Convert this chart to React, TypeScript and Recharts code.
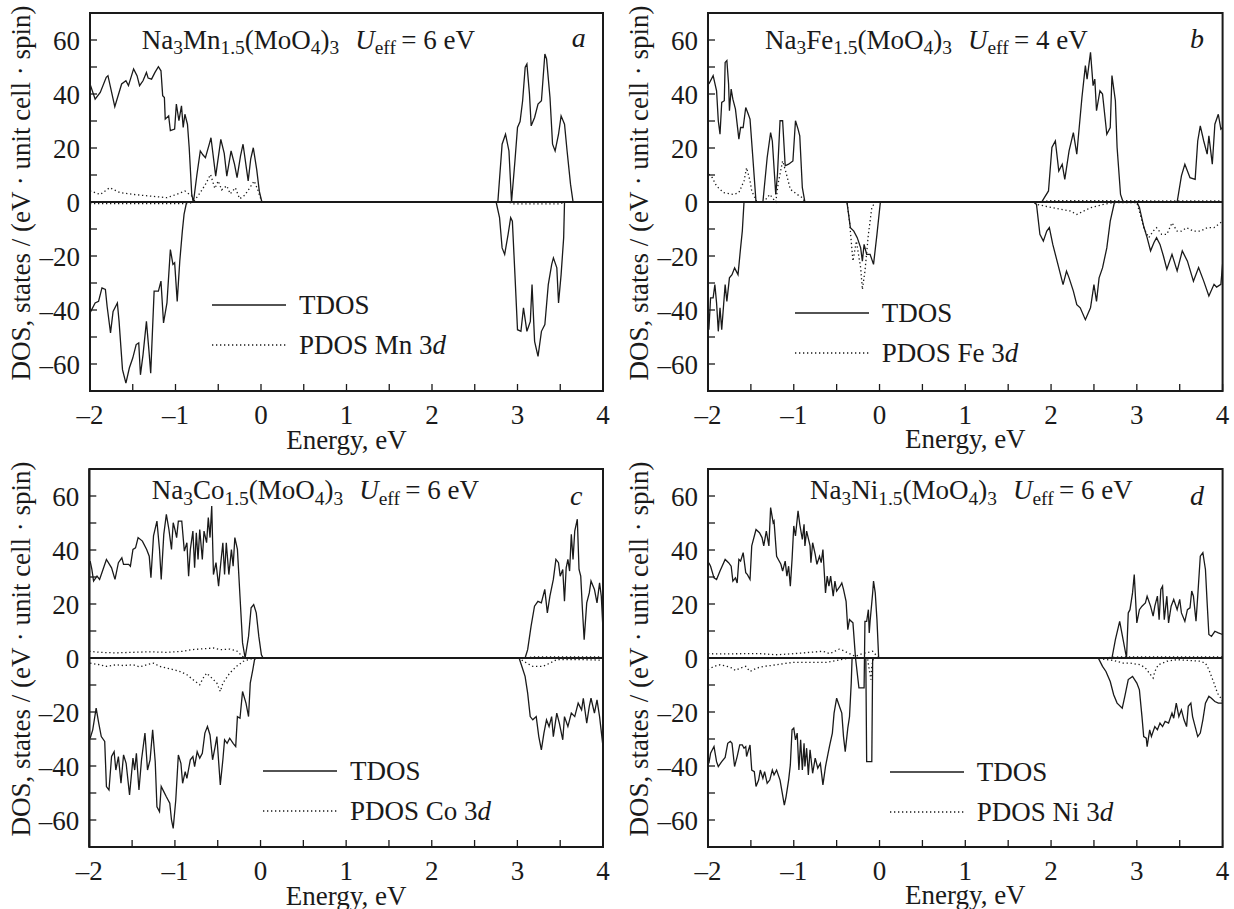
import React from 'react';
import { LineChart, Line, XAxis, YAxis, ReferenceLine, ReferenceArea, Legend } from 'recharts';

type P = [number, number];

const FONT = '"Liberation Serif", "Times New Roman", serif';
const INK = '#1a1a1a';
const FS = 27;

const energyTicks = [-2, -1.5, -1, -0.5, 0, 0.5, 1, 1.5, 2, 2.5, 3, 3.5, 4];
const dosTicks = [-60, -50, -40, -30, -20, -10, 0, 10, 20, 30, 40, 50, 60];
const metals = ['Mn', 'Fe', 'Co', 'Ni'];
const uEff = [6, 4, 6, 6];
const panelLetters = ['a', 'b', 'c', 'd'];

// ---------- Panel a: Na3Mn1.5(MoO4)3 ----------
const mnTdosUp: P[] = [
  [-2.0, 43.7], [-1.94, 38.1], [-1.88, 40.6], [-1.81, 46.2], [-1.79, 46.8], [-1.71, 35.3], [-1.63, 43.7],
  [-1.58, 44.9], [-1.55, 43.1], [-1.49, 49.3], [-1.45, 46.8], [-1.42, 43.1], [-1.38, 44.9], [-1.34, 48.0],
  [-1.32, 45.9], [-1.28, 45.5], [-1.24, 48.0], [-1.2, 50.1], [-1.17, 48.6], [-1.15, 39.4], [-1.13, 38.7],
  [-1.12, 30.7], [-1.08, 31.9], [-1.06, 26.4], [-1.01, 27.0], [-0.99, 36.3], [-0.96, 30.1], [-0.93, 35.6],
  [-0.91, 27.6], [-0.89, 32.5], [-0.86, 28.8], [-0.84, 20.2], [-0.81, 2.8], [-0.79, 0], [-0.75, 10.0],
  [-0.71, 18.9], [-0.68, 17.5], [-0.65, 16.4], [-0.6, 22.0], [-0.585, 23.8], [-0.53, 9.6], [-0.47, 23.2],
  [-0.43, 18.0], [-0.4, 9.6], [-0.35, 18.9], [-0.31, 14.0], [-0.28, 9.0], [-0.24, 17.0], [-0.21, 21.4],
  [-0.15, 7.8], [-0.12, 16.0], [-0.09, 20.1], [-0.05, 12.0], [-0.02, 4.0], [0.01, 0], [2.77, 0],
  [2.82, 21.4], [2.86, 25.1], [2.9, 18.9], [2.93, 0], [2.97, 15.2], [3.0, 27.6], [3.03, 29.8], [3.06, 37.5],
  [3.09, 49.9], [3.11, 51.1], [3.14, 40.0], [3.16, 28.2], [3.2, 31.3], [3.24, 36.3], [3.28, 37.5],
  [3.32, 54.8], [3.34, 53.0], [3.38, 38.7], [3.41, 21.4], [3.44, 18.9], [3.48, 25.1], [3.51, 31.9],
  [3.55, 28.8], [3.58, 18.9], [3.62, 6.6], [3.65, 0], [4.0, 0],
];
const mnTdosDown: P[] = [
  [-2.0, -41.1], [-1.94, -37.4], [-1.9, -36.8], [-1.86, -31.8], [-1.82, -32.4], [-1.8, -38.6], [-1.76, -48.5],
  [-1.73, -40.5], [-1.68, -37.4], [-1.66, -44.2], [-1.62, -62.1], [-1.58, -67.1], [-1.54, -61.5],
  [-1.5, -57.8], [-1.46, -52.8], [-1.43, -52.2], [-1.41, -64.0], [-1.38, -56.6], [-1.34, -44.2],
  [-1.31, -55.3], [-1.29, -63.4], [-1.25, -33.0], [-1.2, -33.0], [-1.17, -29.3], [-1.14, -44.8],
  [-1.1, -37.4], [-1.06, -17.6], [-1.03, -23.1], [-1.01, -22.5], [-0.98, -36.8], [-0.95, -21.9],
  [-0.92, -10.8], [-0.9, -4.6], [-0.87, 0], [2.75, 0], [2.79, -5.8], [2.82, -17.0], [2.85, -19.4],
  [2.89, -12.0], [2.92, -5.8], [2.94, -7.1], [2.97, -26.9], [3.0, -47.3], [3.04, -47.9], [3.07, -39.2],
  [3.11, -47.9], [3.15, -44.2], [3.17, -30.6], [3.2, -51.6], [3.24, -57.2], [3.28, -47.9], [3.32, -45.4],
  [3.36, -30.6], [3.4, -23.1], [3.42, -20.7], [3.46, -24.4], [3.48, -37.4], [3.51, -26.9], [3.54, -13.2],
  [3.55, 0], [4.0, 0],
];
const mnPdosUp: P[] = [
  [-2.0, 4.1], [-1.88, 2.8], [-1.77, 5.3], [-1.65, 3.5], [-1.49, 2.8], [-1.3, 2.2], [-1.1, 1.6], [-0.99, 2.8],
  [-0.89, 4.1], [-0.81, 2.2], [-0.79, 0], [-0.71, 3.5], [-0.65, 6.5], [-0.59, 10.2], [-0.54, 5.0],
  [-0.5, 7.8], [-0.46, 4.5], [-0.4, 6.0], [-0.36, 3.0], [-0.3, 5.3], [-0.25, 1.2], [-0.19, 2.5],
  [-0.13, 5.3], [-0.08, 7.8], [-0.04, 4.7], [0.01, 0], [4.0, 0],
];
const mnPdosDown: P[] = [
  [-2.0, -0.6], [-0.85, -0.6], [-0.8, 0], [2.9, 0], [2.95, -0.7], [3.5, -0.7], [3.55, 0], [4.0, 0],
];

// ---------- Panel b: Na3Fe1.5(MoO4)3 ----------
const feTdosUp: P[] = [
  [-1.99, 43.7], [-1.94, 46.8], [-1.9, 41.2], [-1.88, 30.1], [-1.86, 25.1], [-1.84, 36.9], [-1.81, 37.5],
  [-1.8, 51.7], [-1.78, 52.4], [-1.76, 43.7], [-1.75, 33.8], [-1.73, 41.8], [-1.71, 38.1], [-1.68, 34.4],
  [-1.64, 23.3], [-1.62, 27.6], [-1.59, 27.6], [-1.56, 35.0], [-1.53, 32.5], [-1.51, 30.7], [-1.48, 17.7],
  [-1.44, 0], [-1.36, 0], [-1.31, 16.5], [-1.27, 25.7], [-1.25, 22.6], [-1.21, 2.8], [-1.19, 10.3],
  [-1.16, 30.1], [-1.13, 30.1], [-1.1, 13.4], [-1.06, 14.0], [-1.01, 15.2], [-0.98, 30.1], [-0.95, 27.0],
  [-0.93, 24.5], [-0.9, 5.3], [-0.87, 0], [1.89, 0], [1.97, 4.1], [2.01, 20.2], [2.05, 22.6], [2.09, 11.5],
  [2.13, 14.0], [2.16, 8.4], [2.21, 18.9], [2.26, 25.7], [2.3, 17.7], [2.36, 38.7], [2.4, 50.5],
  [2.42, 45.5], [2.46, 55.4], [2.49, 43.1], [2.51, 45.5], [2.53, 33.8], [2.57, 41.2], [2.6, 40.0],
  [2.65, 25.1], [2.69, 27.6], [2.71, 46.8], [2.75, 37.5], [2.77, 20.2], [2.81, 2.8], [2.84, 0], [3.47, 0],
  [3.52, 9.7], [3.56, 14.0], [3.62, 9.0], [3.68, 8.4], [3.71, 22.6], [3.74, 28.2], [3.78, 22.6],
  [3.82, 17.7], [3.84, 24.5], [3.88, 14.0], [3.91, 28.8], [3.95, 32.5], [3.98, 27.0], [4.0, 27.6],
];
const feTdosDown: P[] = [
  [-1.99, -47.3], [-1.97, -35.5], [-1.94, -35.5], [-1.92, -30.6], [-1.9, -37.4], [-1.88, -47.9],
  [-1.86, -39.2], [-1.84, -47.3], [-1.8, -30.6], [-1.78, -36.8], [-1.75, -28.1], [-1.72, -26.9],
  [-1.69, -24.4], [-1.65, -26.9], [-1.62, -17.0], [-1.6, -10.8], [-1.58, 0], [-0.38, 0], [-0.34, -9.5],
  [-0.3, -10.8], [-0.26, -13.2], [-0.22, -17.0], [-0.2, -21.9], [-0.18, -15.7], [-0.15, -19.4],
  [-0.11, -19.4], [-0.07, -23.1], [-0.03, -12.0], [0.01, 0], [1.8, 0], [1.83, -0.9], [1.87, -12.0],
  [1.91, -14.5], [1.95, -10.8], [1.98, -9.5], [2.02, -15.7], [2.08, -23.1], [2.14, -30.6], [2.18, -25.6],
  [2.21, -28.1], [2.26, -33.0], [2.3, -38.0], [2.34, -39.2], [2.4, -43.6], [2.46, -39.2], [2.5, -30.6],
  [2.53, -36.8], [2.56, -28.1], [2.6, -24.4], [2.65, -17.0], [2.69, -7.1], [2.74, 0], [3.0, 0],
  [3.03, -2.0], [3.08, -9.0], [3.12, -13.2], [3.16, -18.1], [3.2, -15.0], [3.23, -13.2], [3.27, -15.7],
  [3.31, -20.0], [3.35, -24.9], [3.41, -19.4], [3.47, -25.5], [3.53, -18.1], [3.59, -21.9], [3.66, -29.3],
  [3.72, -24.3], [3.78, -29.3], [3.84, -34.8], [3.9, -30.5], [3.93, -31.5], [3.98, -30.5], [4.0, -23.0],
];
const fePdosUp: P[] = [
  [-1.99, 10.3], [-1.95, 9.0], [-1.9, 5.9], [-1.82, 3.5], [-1.7, 2.8], [-1.64, 3.5], [-1.58, 7.8],
  [-1.55, 12.7], [-1.51, 7.8], [-1.49, 4.1], [-1.43, 0], [-1.35, 0], [-1.28, 2.8], [-1.21, 0], [-1.18, 7.2],
  [-1.13, 15.2], [-1.09, 10.9], [-1.04, 4.7], [-0.96, 2.8], [-0.9, 1.6], [-0.87, 0], [1.8, 0], [2.0, 0.5],
  [2.8, 0.5], [3.5, 0.4], [4.0, 0.4],
];
const fePdosDown: P[] = [
  [-2.0, 0], [-0.38, 0], [-0.35, -7.1], [-0.31, -21.9], [-0.27, -14.5], [-0.22, -24.4], [-0.2, -32.4],
  [-0.17, -25.6], [-0.13, -12.0], [-0.09, -2.1], [-0.05, 0], [1.8, 0], [1.83, -0.9], [2.02, -2.1],
  [2.22, -3.3], [2.3, -4.6], [2.46, -2.1], [2.61, -0.9], [2.73, -0.2], [3.0, -0.2], [3.04, -4.6],
  [3.08, -9.5], [3.14, -13.2], [3.19, -10.8], [3.23, -9.5], [3.29, -12.0], [3.35, -12.0], [3.41, -7.7],
  [3.47, -10.8], [3.52, -10.8], [3.58, -9.5], [3.66, -10.8], [3.74, -10.8], [3.82, -9.5], [3.9, -9.5],
  [3.95, -8.3], [4.0, -7.1],
];

// ---------- Panel c: Na3Co1.5(MoO4)3 ----------
const coTdosUp: P[] = [
  [-1.99, 35.9], [-1.97, 32.8], [-1.95, 28.5], [-1.91, 30.3], [-1.88, 29.1], [-1.86, 30.9], [-1.8, 36.5],
  [-1.74, 33.4], [-1.7, 29.1], [-1.66, 35.3], [-1.62, 37.1], [-1.6, 34.7], [-1.54, 34.7], [-1.52, 34.0],
  [-1.49, 40.2], [-1.46, 40.8], [-1.43, 44.6], [-1.38, 43.3], [-1.33, 40.2], [-1.3, 37.7], [-1.28, 29.7],
  [-1.25, 45.2], [-1.21, 50.7], [-1.18, 40.2], [-1.16, 29.1], [-1.13, 45.8], [-1.1, 53.2], [-1.07, 47.6],
  [-1.04, 40.2], [-1.02, 50.1], [-1.0, 47.6], [-0.98, 44.6], [-0.96, 50.7], [-0.92, 50.7], [-0.89, 39.6],
  [-0.86, 42.7], [-0.84, 30.3], [-0.82, 40.2], [-0.79, 47.0], [-0.77, 33.4], [-0.75, 46.4], [-0.73, 36.5],
  [-0.71, 47.6], [-0.68, 36.5], [-0.66, 47.0], [-0.63, 42.7], [-0.61, 52.0], [-0.59, 44.6], [-0.57, 56.3],
  [-0.55, 30.9], [-0.52, 35.3], [-0.49, 26.6], [-0.47, 33.4], [-0.44, 42.7], [-0.42, 30.9], [-0.4, 42.7],
  [-0.37, 30.9], [-0.34, 40.2], [-0.32, 34.0], [-0.3, 44.6], [-0.27, 40.2], [-0.24, 22.9], [-0.21, 5.6],
  [-0.18, 0], [-0.14, 8.0], [-0.11, 18.6], [-0.08, 19.8], [-0.05, 16.7], [-0.02, 8.0], [0.01, 1.2],
  [0.03, 0], [3.09, 0], [3.12, 3.1], [3.16, 11.8], [3.2, 19.2], [3.24, 21.0], [3.28, 20.4], [3.32, 25.4],
  [3.35, 16.7], [3.38, 22.9], [3.42, 29.1], [3.45, 36.5], [3.48, 35.3], [3.5, 30.3], [3.53, 32.8],
  [3.55, 21.0], [3.57, 33.4], [3.59, 36.5], [3.61, 32.2], [3.63, 45.8], [3.65, 36.5], [3.67, 47.0],
  [3.7, 51.4], [3.72, 32.8], [3.74, 30.3], [3.76, 17.9], [3.78, 6.8], [3.81, 20.4], [3.84, 24.1],
  [3.86, 28.5], [3.9, 25.4], [3.93, 20.4], [3.96, 27.8], [3.98, 22.9], [4.0, 10.5],
];
const coTdosDown: P[] = [
  [-1.99, -29.7], [-1.96, -26.6], [-1.92, -18.6], [-1.89, -24.1], [-1.86, -29.1], [-1.82, -30.9],
  [-1.8, -47.6], [-1.77, -48.9], [-1.74, -36.5], [-1.71, -34.7], [-1.69, -41.5], [-1.66, -36.5],
  [-1.63, -46.4], [-1.6, -35.9], [-1.57, -39.0], [-1.53, -50.7], [-1.49, -37.1], [-1.47, -41.5],
  [-1.45, -35.3], [-1.42, -48.9], [-1.39, -37.7], [-1.35, -27.8], [-1.32, -41.5], [-1.29, -37.7],
  [-1.26, -26.6], [-1.23, -38.4], [-1.21, -55.1], [-1.18, -56.9], [-1.16, -47.6], [-1.13, -49.5],
  [-1.1, -51.4], [-1.06, -53.8], [-1.04, -60.0], [-1.02, -63.1], [-0.99, -52.6], [-0.96, -35.9],
  [-0.93, -39.0], [-0.91, -46.4], [-0.88, -42.1], [-0.86, -44.6], [-0.82, -37.7], [-0.79, -36.5],
  [-0.77, -40.2], [-0.74, -34.7], [-0.71, -37.1], [-0.68, -35.3], [-0.65, -27.8], [-0.62, -25.4],
  [-0.59, -28.5], [-0.56, -37.7], [-0.53, -32.8], [-0.51, -29.1], [-0.47, -47.0], [-0.44, -37.7],
  [-0.42, -30.3], [-0.39, -31.6], [-0.36, -29.7], [-0.32, -31.6], [-0.29, -32.8], [-0.27, -21.7],
  [-0.24, -22.3], [-0.21, -12.4], [-0.17, -16.7], [-0.14, -21.7], [-0.12, -9.3], [-0.09, -4.3],
  [-0.07, -0.6], [-0.05, 0], [3.02, 0], [3.09, -6.8], [3.12, -13.0], [3.15, -21.7], [3.18, -22.9],
  [3.22, -21.7], [3.25, -29.1], [3.28, -34.0], [3.31, -27.8], [3.34, -22.9], [3.37, -25.4], [3.4, -21.7],
  [3.42, -29.1], [3.46, -20.4], [3.49, -24.1], [3.53, -30.3], [3.55, -21.7], [3.59, -25.4], [3.63, -20.4],
  [3.67, -21.7], [3.71, -16.7], [3.75, -19.2], [3.77, -14.9], [3.81, -24.1], [3.84, -17.9], [3.86, -14.9],
  [3.9, -20.4], [3.93, -15.5], [3.96, -21.7], [4.0, -32.8],
];
const coPdosUp: P[] = [
  [-2.0, 2.5], [-1.88, 2.1], [-1.7, 1.9], [-1.5, 2.1], [-1.3, 2.3], [-1.1, 2.1], [-0.9, 2.5], [-0.8, 3.1],
  [-0.63, 3.5], [-0.55, 3.7], [-0.47, 3.1], [-0.36, 3.3], [-0.28, 2.7], [-0.21, 0.6], [-0.17, 0],
  [3.05, 0], [3.2, 0.4], [4.0, 0.4],
];
const coPdosDown: P[] = [
  [-1.99, -1.9], [-1.88, -2.5], [-1.8, -3.1], [-1.68, -2.5], [-1.6, -2.8], [-1.49, -2.5], [-1.41, -3.3],
  [-1.33, -2.5], [-1.25, -1.9], [-1.18, -3.1], [-1.1, -3.7], [-1.02, -4.3], [-0.94, -5.0], [-0.86, -6.2],
  [-0.79, -8.0], [-0.71, -9.9], [-0.67, -7.4], [-0.63, -5.6], [-0.55, -8.0], [-0.51, -9.3], [-0.47, -12.4],
  [-0.44, -9.3], [-0.36, -5.6], [-0.28, -3.1], [-0.2, -1.2], [-0.12, -0.4], [-0.07, 0], [3.02, 0],
  [3.07, -1.2], [3.18, -3.1], [3.3, -3.1], [3.38, -1.9], [3.46, -0.6], [3.73, -0.6], [4.0, -0.8],
];

// ---------- Panel d: Na3Ni1.5(MoO4)3 ----------
const niTdosUp: P[] = [
  [-1.99, 35.3], [-1.97, 34.0], [-1.93, 29.7], [-1.9, 29.1], [-1.86, 32.2], [-1.8, 36.5], [-1.76, 35.3],
  [-1.73, 34.0], [-1.71, 28.5], [-1.68, 29.7], [-1.66, 27.8], [-1.64, 36.5], [-1.62, 35.9], [-1.59, 39.0],
  [-1.56, 31.6], [-1.54, 30.9], [-1.51, 29.1], [-1.49, 41.5], [-1.44, 47.6], [-1.4, 46.4], [-1.37, 44.6],
  [-1.35, 41.5], [-1.32, 47.0], [-1.29, 41.5], [-1.27, 55.7], [-1.24, 50.1], [-1.23, 50.7], [-1.2, 37.7],
  [-1.18, 36.5], [-1.15, 34.7], [-1.13, 32.2], [-1.1, 35.9], [-1.08, 30.3], [-1.06, 34.0], [-1.04, 26.6],
  [-1.02, 36.5], [-1.0, 48.9], [-0.98, 45.2], [-0.95, 54.5], [-0.93, 49.5], [-0.9, 43.9], [-0.88, 49.5],
  [-0.87, 41.5], [-0.85, 47.0], [-0.81, 41.5], [-0.8, 35.3], [-0.78, 42.7], [-0.75, 38.4], [-0.73, 34.7],
  [-0.7, 37.7], [-0.68, 35.3], [-0.66, 40.2], [-0.63, 24.1], [-0.61, 30.3], [-0.59, 26.6], [-0.57, 30.3],
  [-0.54, 22.9], [-0.52, 28.5], [-0.5, 24.8], [-0.46, 26.6], [-0.44, 27.8], [-0.42, 25.4], [-0.39, 21.0],
  [-0.37, 10.5], [-0.35, 14.2], [-0.31, 13.0], [-0.28, 0], [-0.24, -11.1], [-0.18, -11.1], [-0.17, 13.6],
  [-0.15, 13.6], [-0.13, 17.9], [-0.12, 9.3], [-0.11, 13.6], [-0.08, 24.1], [-0.07, 28.5], [-0.05, 24.1],
  [-0.03, 14.2], [-0.01, 0], [2.71, 0], [2.75, 6.8], [2.8, 13.6], [2.84, 6.8], [2.88, 0], [2.9, 16.7],
  [2.92, 17.9], [2.95, 24.1], [2.97, 30.9], [3.0, 13.0], [3.03, 17.9], [3.06, 19.2], [3.1, 20.4],
  [3.12, 22.9], [3.16, 19.2], [3.19, 15.5], [3.21, 19.2], [3.24, 22.9], [3.26, 14.2], [3.28, 25.4],
  [3.3, 26.6], [3.32, 14.2], [3.35, 22.9], [3.37, 13.0], [3.4, 19.2], [3.43, 21.7], [3.45, 19.8],
  [3.47, 17.9], [3.5, 21.7], [3.52, 16.7], [3.56, 13.6], [3.59, 17.9], [3.62, 18.6], [3.64, 24.8],
  [3.66, 22.9], [3.69, 13.6], [3.71, 22.9], [3.74, 37.7], [3.77, 39.0], [3.8, 32.8], [3.82, 20.4],
  [3.84, 8.7], [3.87, 8.0], [3.91, 9.9], [3.95, 9.3], [4.0, 8.7],
];
const niTdosDown: P[] = [
  [-1.99, -39.0], [-1.97, -35.3], [-1.93, -32.8], [-1.9, -38.4], [-1.88, -40.2], [-1.84, -38.4],
  [-1.8, -36.8], [-1.77, -31.6], [-1.74, -30.9], [-1.72, -31.6], [-1.69, -40.2], [-1.66, -36.5],
  [-1.63, -32.2], [-1.6, -32.2], [-1.58, -33.4], [-1.56, -32.8], [-1.55, -36.5], [-1.51, -32.2],
  [-1.49, -41.5], [-1.46, -42.1], [-1.44, -47.6], [-1.41, -45.2], [-1.39, -41.5], [-1.36, -44.6],
  [-1.34, -42.1], [-1.31, -46.4], [-1.28, -45.2], [-1.25, -41.5], [-1.23, -43.3], [-1.2, -41.5],
  [-1.16, -45.2], [-1.14, -48.9], [-1.11, -54.5], [-1.09, -51.4], [-1.06, -45.2], [-1.04, -39.6],
  [-1.02, -26.6], [-1.0, -26.0], [-0.98, -30.3], [-0.96, -27.8], [-0.94, -41.5], [-0.92, -30.3],
  [-0.9, -41.5], [-0.88, -31.6], [-0.87, -40.2], [-0.85, -33.4], [-0.83, -43.3], [-0.81, -34.0],
  [-0.78, -42.7], [-0.75, -37.1], [-0.72, -40.8], [-0.69, -39.0], [-0.66, -47.0], [-0.63, -40.2],
  [-0.6, -35.3], [-0.58, -32.2], [-0.55, -27.8], [-0.53, -20.4], [-0.5, -14.9], [-0.46, -18.6],
  [-0.44, -20.4], [-0.42, -29.1], [-0.4, -34.7], [-0.37, -26.0], [-0.35, -21.7], [-0.33, -9.3],
  [-0.32, 0], [-0.16, 0], [-0.15, -38.4], [-0.09, -38.4], [-0.08, 0], [2.55, 0], [2.6, -3.1], [2.64, -5.0],
  [2.69, -8.7], [2.73, -13.6], [2.77, -16.7], [2.83, -18.6], [2.86, -14.2], [2.9, -8.0], [2.95, -6.8],
  [3.0, -9.3], [3.03, -11.8], [3.06, -21.7], [3.08, -29.1], [3.11, -29.7], [3.12, -32.8], [3.15, -26.6],
  [3.17, -29.1], [3.21, -25.4], [3.24, -26.6], [3.27, -24.1], [3.3, -25.4], [3.33, -23.5], [3.37, -24.1],
  [3.41, -20.4], [3.43, -22.3], [3.46, -16.7], [3.49, -21.7], [3.52, -19.2], [3.55, -22.9], [3.58, -25.4],
  [3.6, -17.9], [3.63, -16.7], [3.65, -21.7], [3.68, -25.4], [3.71, -29.1], [3.74, -27.8], [3.77, -22.9],
  [3.8, -16.7], [3.84, -14.2], [3.87, -14.9], [3.91, -16.1], [3.95, -16.7], [4.0, -16.7],
];
const niPdosUp: P[] = [
  [-2.0, 1.6], [-1.86, 1.5], [-1.58, 1.6], [-1.39, 1.6], [-1.2, 1.2], [-1.0, 1.6], [-0.81, 2.1],
  [-0.66, 2.5], [-0.58, 1.6], [-0.47, 3.3], [-0.42, 2.7], [-0.35, 1.6], [-0.28, 0.6], [-0.2, 1.6],
  [-0.13, 2.1], [-0.08, 2.5], [-0.01, 0], [2.6, 0], [2.8, 0.4], [4.0, 0.4],
];
const niPdosDown: P[] = [
  [-2.0, -4.3], [-1.93, -3.1], [-1.86, -2.5], [-1.78, -3.1], [-1.72, -3.7], [-1.68, -4.6], [-1.62, -3.7],
  [-1.56, -3.1], [-1.51, -5.0], [-1.43, -3.7], [-1.35, -3.1], [-1.27, -2.8], [-1.2, -2.5], [-1.12, -2.1],
  [-1.0, -1.6], [-0.81, -1.6], [-0.62, -1.6], [-0.5, -0.9], [-0.42, -0.4], [-0.35, 0], [-0.14, 0],
  [-0.12, -4.3], [-0.1, -8.0], [-0.09, -3.0], [-0.07, 0], [2.55, 0], [2.6, -0.4], [2.73, -0.9],
  [2.84, -1.9], [2.92, -1.9], [3.04, -2.5], [3.1, -3.7], [3.16, -6.2], [3.19, -7.4], [3.21, -5.0],
  [3.25, -2.5], [3.35, -1.2], [3.47, -0.6], [3.59, -0.9], [3.74, -1.2], [3.8, -1.9], [3.84, -4.3],
  [3.9, -9.3], [3.94, -13.0], [3.98, -14.9], [4.0, -16.1],
];

const toRows = (pts: P[]) => pts.map(([e, v]) => ({ e, v }));

const fmtNum = (v: number) => (v < 0 ? '\u2013' + Math.abs(v) : String(v));
const fmtEnergy = (v: number) => (Number.isInteger(v) ? fmtNum(v) : '');
const fmtDos = (v: number) => (v % 20 === 0 ? fmtNum(v) : '');

const textStyle: React.CSSProperties = { fontFamily: FONT, fontSize: FS, fill: INK };

const renderXLabel = (props: any) => {
  const vb = props.viewBox || {};
  return (
    <text x={vb.x + vb.width / 2} y={vb.y + 57.5} textAnchor="middle" style={textStyle}>
      Energy, eV
    </text>
  );
};

const renderYLabel = (props: any) => {
  const vb = props.viewBox || {};
  const cx = vb.x + 21;
  const cy = vb.y + vb.height / 2 - 9;
  return (
    <text
      x={cx}
      y={cy}
      transform={`rotate(-90 ${cx} ${cy})`}
      textAnchor="middle"
      dominantBaseline="central"
      style={textStyle}
    >
      DOS, states / (eV · unit cell · spin)
    </text>
  );
};

const LegendSample = ({ dashed }: { dashed: boolean }) => (
  <svg width={74} height={6} style={{ display: 'block' }}>
    <line x1={0} y1={3} x2={74} y2={3} stroke={INK} strokeWidth={1.4} strokeDasharray={dashed ? '1.3 2.7' : undefined} />
  </svg>
);

const makeLegend = (metal: string) => () => (
  <div style={{ fontFamily: FONT, fontSize: FS, color: INK, lineHeight: '40px' }}>
    <div style={{ display: 'flex', alignItems: 'center', height: 40 }}>
      <LegendSample dashed={false} />
      <span style={{ marginLeft: 13 }}>TDOS</span>
    </div>
    <div style={{ display: 'flex', alignItems: 'center', height: 40, whiteSpace: 'nowrap' }}>
      <LegendSample dashed={true} />
      <span style={{ marginLeft: 13 }}>
        PDOS {metal} 3<i>d</i>
      </span>
    </div>
  </div>
);

type PanelProps = {
  left: number;
  top: number;
  width: number;
  yAxisWidth: number;
  metal: string;
  legendLeft: number;
  legendTop: number;
  tdosUp: P[];
  tdosDown: P[];
  pdosUp: P[];
  pdosDown: P[];
};

function Panel(p: PanelProps) {
  const solid = { stroke: INK, strokeWidth: 1.3, dot: false, isAnimationActive: false, type: 'linear' as const };
  const dotted = { ...solid, strokeDasharray: '1.3 2.7' };
  return (
    <div style={{ position: 'absolute', left: p.left, top: p.top }}>
      <LineChart width={p.width} height={470} margin={{ top: 13, right: 10, bottom: 19, left: 0 }}>
        <XAxis
          type="number"
          dataKey="e"
          domain={[-2, 4]}
          ticks={energyTicks}
          interval={0}
          allowDataOverflow
          tickFormatter={fmtEnergy}
          tickSize={-7}
          tickMargin={20.5}
          height={60}
          axisLine={{ stroke: INK, strokeWidth: 2 }}
          tickLine={{ stroke: INK, strokeWidth: 1.3 }}
          tick={{ fill: INK, fontSize: FS, fontFamily: FONT }}
          label={renderXLabel}
        />
        <YAxis
          type="number"
          domain={[-70, 70]}
          ticks={dosTicks}
          interval={0}
          allowDataOverflow
          tickFormatter={fmtDos}
          tickSize={-7}
          tickMargin={17}
          width={p.yAxisWidth}
          axisLine={{ stroke: INK, strokeWidth: 2 }}
          tickLine={{ stroke: INK, strokeWidth: 1.3 }}
          tick={{ fill: INK, fontSize: FS, fontFamily: FONT }}
          label={renderYLabel}
        />
        <ReferenceArea x1={-2} x2={4} y1={-70} y2={70} fill="none" stroke={INK} strokeWidth={2} ifOverflow="visible" />
        <ReferenceLine y={0} stroke={INK} strokeWidth={2} />
        <Line data={toRows(p.pdosUp)} dataKey="v" name="PDOS up" {...dotted} />
        <Line data={toRows(p.pdosDown)} dataKey="v" name="PDOS down" {...dotted} />
        <Line data={toRows(p.tdosUp)} dataKey="v" name="TDOS up" {...solid} />
        <Line data={toRows(p.tdosDown)} dataKey="v" name="TDOS down" {...solid} />
        <Legend
          layout="vertical"
          align="center"
          verticalAlign="middle"
          content={makeLegend(p.metal)}
          wrapperStyle={{ left: p.legendLeft, top: p.legendTop, width: 'auto', height: 'auto' }}
        />
      </LineChart>
    </div>
  );
}

const Sub = ({ children }: { children: React.ReactNode }) => (
  <span style={{ fontSize: '0.72em', position: 'relative', top: '0.27em', lineHeight: 1 }}>{children}</span>
);

function Title({ x, baseline, metal, u }: { x: number; baseline: number; metal: string; u: number }) {
  return (
    <div
      style={{
        position: 'absolute', left: x, top: baseline - 22.6, fontFamily: FONT, fontSize: FS,
        lineHeight: '27px', whiteSpace: 'nowrap', color: INK,
      }}
    >
      Na<Sub>3</Sub>{metal}<Sub>1.5</Sub>(MoO<Sub>4</Sub>)<Sub>3</Sub>
      <span style={{ marginLeft: 16 }}>
        <i>U</i><Sub>eff</Sub>{'\u2009= '}{u} eV
      </span>
    </div>
  );
}

function Letter({ x, baseline, ch }: { x: number; baseline: number; ch: string }) {
  return (
    <div
      style={{
        position: 'absolute', left: x, top: baseline - 21.8, fontFamily: FONT, fontSize: 28,
        lineHeight: '26px', fontStyle: 'italic', color: INK,
      }}
    >
      {ch}
    </div>
  );
}

export default function App() {
  return (
    <div
      style={{
        position: 'absolute', left: 0, top: 0, width: 1234, height: 909, overflow: 'hidden',
        background: '#fff', fontFamily: FONT,
      }}
    >
      <Panel left={0} top={0} width={613} yAxisWidth={90} metal={metals[0]} legendLeft={212} legendTop={285}
        tdosUp={mnTdosUp} tdosDown={mnTdosDown} pdosUp={mnPdosUp} pdosDown={mnPdosDown} />
      <Panel left={617.7} top={0} width={614.6} yAxisWidth={90} metal={metals[1]} legendLeft={177} legendTop={293}
        tdosUp={feTdosUp} tdosDown={feTdosDown} pdosUp={fePdosUp} pdosDown={fePdosDown} />
      <Panel left={0} top={456.3} width={613} yAxisWidth={89.3} metal={metals[2]} legendLeft={263} legendTop={295}
        tdosUp={coTdosUp} tdosDown={coTdosDown} pdosUp={coPdosUp} pdosDown={coPdosDown} />
      <Panel left={617.7} top={456.3} width={614.6} yAxisWidth={90} metal={metals[3]} legendLeft={272} legendTop={296}
        tdosUp={niTdosUp} tdosDown={niTdosDown} pdosUp={niPdosUp} pdosDown={niPdosDown} />

      <Title x={141.7} baseline={49.5} metal={metals[0]} u={uEff[0]} />
      <Title x={765} baseline={49.5} metal={metals[1]} u={uEff[1]} />
      <Title x={151.7} baseline={500} metal={metals[2]} u={uEff[2]} />
      <Title x={810} baseline={500} metal={metals[3]} u={uEff[3]} />

      <Letter x={571.7} baseline={47} ch={panelLetters[0]} />
      <Letter x={1190} baseline={48} ch={panelLetters[1]} />
      <Letter x={570} baseline={505} ch={panelLetters[2]} />
      <Letter x={1190} baseline={505} ch={panelLetters[3]} />
    </div>
  );
}
